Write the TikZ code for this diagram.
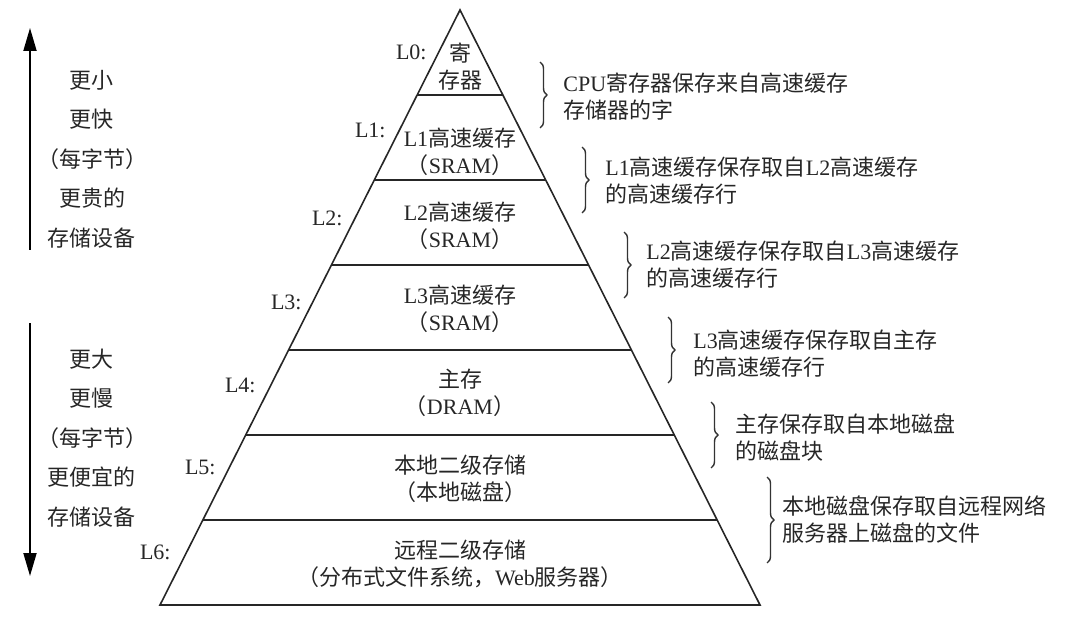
\documentclass[tikz,border=0pt]{standalone}
\usepackage{fontspec}
\setmainfont{Liberation Serif}
\newfontfamily\cjk{Noto Sans CJK SC}
\usepackage{tikz}
\usetikzlibrary{arrows.meta,calc,decorations.pathreplacing}

\begin{document}
\begin{tikzpicture}[
  x=0.5pt, y=-0.5pt,
  every node/.style={font=\cjk\fontsize{11}{13.5}\selectfont, text=black!85},
  tier/.style={align=center},
  lvl/.style={anchor=east, inner sep=0pt, font=\fontsize{11}{13.5}\selectfont},
  side/.style={align=center, font=\cjk\fontsize{11}{19.75}\selectfont},
  note/.style={anchor=west, inner sep=0pt, align=left},
  brc/.style={decorate, decoration={brace, amplitude=3.5pt}, line width=0.7pt, draw=black!80},
  pyr/.style={line width=0.8pt, draw=black!85},
  >={Triangle[length=11.5pt,width=6.5pt]}
]
\useasboundingbox (0,0) rectangle (1092,620);

% pyramid
\coordinate (apex) at (460,10);
\coordinate (bl)   at (160,605);
\coordinate (br)   at (760,605);
\draw[pyr] (apex) -- (bl) -- (br) -- cycle;
\draw[pyr] ($(apex)!1/7!(bl)$) -- ($(apex)!1/7!(br)$);
\draw[pyr] ($(apex)!2/7!(bl)$) -- ($(apex)!2/7!(br)$);
\draw[pyr] ($(apex)!3/7!(bl)$) -- ($(apex)!3/7!(br)$);
\draw[pyr] ($(apex)!4/7!(bl)$) -- ($(apex)!4/7!(br)$);
\draw[pyr] ($(apex)!5/7!(bl)$) -- ($(apex)!5/7!(br)$);
\draw[pyr] ($(apex)!6/7!(bl)$) -- ($(apex)!6/7!(br)$);

\node[tier] (t0) at (460,67)  {寄\\存器};
\node[tier] (t1) at (460,152) {\textrm{L1}高速缓存\\（\textrm{SRAM}）};
\node[tier] (t2) at (460,226) {\textrm{L2}高速缓存\\（\textrm{SRAM}）};
\node[tier] (t3) at (460,309) {\textrm{L3}高速缓存\\（\textrm{SRAM}）};
\node[tier] (t4) at (460,393) {主存\\（\textrm{DRAM}）};
\node[tier] (t5) at (460,479) {本地二级存储\\（本地磁盘）};
\node[tier] (t6) at (460,564) {远程二级存储\\（分布式文件系统，\textrm{Web}服务器）};

\node[lvl] (l0) at (427,52)  {L0:};
\node[lvl] (l1) at (386,130) {L1:};
\node[lvl] (l2) at (343,218) {L2:};
\node[lvl] (l3) at (302,302) {L3:};
\node[lvl] (l4) at (256,385) {L4:};
\node[lvl] (l5) at (216,467) {L5:};
\node[lvl] (l6) at (171,552) {L6:};

% left side
\coordinate (upS) at (30,250);
\coordinate (upT) at (30,28);
\coordinate (dnS) at (30,323);
\coordinate (dnT) at (30,576);
\draw[->, line width=0.9pt] (upS) -- (upT);
\draw[->, line width=0.9pt] (dnS) -- (dnT);

\node[side] (small) at (92,159) {更小\\更快\\（每字节）\\更贵的\\存储设备};
\node[side] (big)   at (92,438) {更大\\更慢\\（每字节）\\更便宜的\\存储设备};

% braces and notes
\coordinate (b0t) at (540,62);  \coordinate (b0b) at (540,128);
\coordinate (b1t) at (582,147); \coordinate (b1b) at (582,213);
\coordinate (b2t) at (624,232); \coordinate (b2b) at (624,298);
\coordinate (b3t) at (668,317); \coordinate (b3b) at (668,383);
\coordinate (b4t) at (711,402); \coordinate (b4b) at (711,468);
\coordinate (b5t) at (767,477); \coordinate (b5b) at (767,563);
\draw[brc] (b0t) -- (b0b);
\draw[brc] (b1t) -- (b1b);
\draw[brc] (b2t) -- (b2b);
\draw[brc] (b3t) -- (b3b);
\draw[brc] (b4t) -- (b4b);
\draw[brc] (b5t) -- (b5b);

\node[note] (n0) at (563,96.5)  {\textrm{CPU}寄存器保存来自高速缓存\\存储器的字};
\node[note] (n1) at (605,180.5) {\textrm{L1}高速缓存保存取自\textrm{L2}高速缓存\\的高速缓存行};
\node[note] (n2) at (646,264.5) {\textrm{L2}高速缓存保存取自\textrm{L3}高速缓存\\的高速缓存行};
\node[note] (n3) at (693,353.5) {\textrm{L3}高速缓存保存取自主存\\的高速缓存行};
\node[note] (n4) at (735,437.5) {主存保存取自本地磁盘\\的磁盘块};
\node[note] (n5) at (782,520)   {本地磁盘保存取自远程网络\\服务器上磁盘的文件};
\end{tikzpicture}
\end{document}
